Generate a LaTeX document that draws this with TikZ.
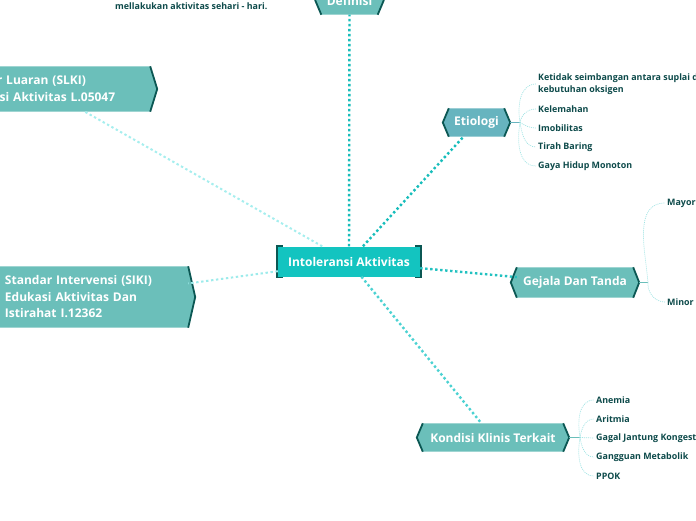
\documentclass[tikz,border=0pt]{standalone}
\usepackage{fontspec}
\setmainfont{Open Sans}
\usetikzlibrary{backgrounds}

\definecolor{turq}{HTML}{13C4C0}
\definecolor{sage}{HTML}{6BBFBA}
\definecolor{steel}{HTML}{67B4BF}
\definecolor{rimc}{HTML}{0B5753}
\definecolor{leaftext}{HTML}{0D4A4A}
\definecolor{linkdark}{HTML}{17BDBB}
\definecolor{linkmid}{HTML}{4CD2D2}
\definecolor{linkpale}{HTML}{A6EEEE}
\definecolor{twigc}{HTML}{9FE3E3}

\begin{document}
\begin{tikzpicture}[x=1pt,y=-1pt]
      \useasboundingbox (0,0) rectangle (696,520);
      \tikzstyle{topic}=[inner sep=0pt,text=white,
        font=\fontsize{12}{15}\selectfont\bfseries]
      \tikzstyle{leaf}=[anchor=west,inner xsep=2pt,inner ysep=1pt,
        text=leaftext,align=left,
        font=\fontsize{8.9}{12}\selectfont\bfseries]
      \tikzstyle{rim}=[rimc,line width=1.8pt]

      % main topics
      \node[topic,fill=turq,minimum width=142pt,minimum height=30pt]
      (ia) at (349,261.5) {Intoleransi Aktivitas};
      \node[topic,minimum width=56pt,minimum height=28pt]  (def) at (349.5,0.5) {Definisi};
      \node[topic,minimum width=55pt,minimum height=28pt]  (eti) at (476.5,122.5) {Etiologi};
      \node[topic,minimum width=116pt,minimum height=30pt] (gej) at (575,282.5) {Gejala Dan Tanda};
      \node[topic,minimum width=140pt,minimum height=28pt] (kon) at (493,437.5) {Kondisi Klinis Terkait};
      \node[topic,text width=180pt,inner xsep=15pt,minimum height=45pt,align=left,
        font=\fontsize{12}{17}\selectfont\bfseries]
      (slki) at (45,89) {Standar Luaran (SLKI)\\Toleransi Aktivitas L.05047};
      \node[topic,text width=168pt,inner xsep=15pt,minimum height=61pt,align=left,
        font=\fontsize{12}{16.5}\selectfont\bfseries]
      (siki) at (89,297) {Standar Intervensi (SIKI)\\Edukasi Aktivitas Dan\\Istirahat I.12362};

      \node[leaf] (defnote) at (113,6) {mellakukan aktivitas sehari - hari.};

      % shapes behind the texts
      \begin{scope}[on background layer]
        \foreach \n/\c in {def/sage,eti/steel,gej/sage,kon/sage} {
          \fill[\c] ([xshift=-6pt]\n.west) -- (\n.north west) -- (\n.north east)
          -- ([xshift=6pt]\n.east) -- (\n.south east) -- (\n.south west) -- cycle;
          \draw[rim] (\n.north west) -- ([xshift=-6pt]\n.west) -- (\n.south west);
          \draw[rim] (\n.north east) -- ([xshift=6pt]\n.east) -- (\n.south east);
        }
        \foreach \n in {slki,siki} {
          \fill[sage] (\n.north west) -- (\n.north east) -- ([xshift=7pt]\n.east)
          -- (\n.south east) -- (\n.south west) -- cycle;
          \draw[rim] (\n.north east) -- ([xshift=7pt]\n.east) -- (\n.south east);
        }
        \draw[rimc,line width=3pt] ([xshift=5pt]ia.north west) -- (ia.north west)
        -- (ia.south west) -- ([xshift=5pt]ia.south west);
        \draw[rimc,line width=3pt] ([xshift=-5pt]ia.north east) -- (ia.north east)
        -- (ia.south east) -- ([xshift=-5pt]ia.south east);
      \end{scope}

      % links from the centre
      \tikzstyle{link}=[line width=2.4pt,dash pattern=on 2.4pt off 2.6pt]
      \draw[link,linkdark] (ia) -- (def);
      \draw[link,linkdark] (ia) -- (eti);
      \draw[link,linkdark!80!linkmid] (ia) -- (gej);
      \draw[link,linkmid] (ia) -- (kon);
      \draw[link,linkpale,line width=2pt] (ia) -- (slki);
      \draw[link,linkpale!90!linkmid,line width=2pt] (ia) -- (siki);

      % leaves
      \node[leaf] (e1) at (536,84)  {Ketidak seimbangan antara suplai dan\\kebutuhan oksigen};
      \node[leaf] (e2) at (536,109) {Kelemahan};
      \node[leaf] (e3) at (536,128) {Imobilitas};
      \node[leaf] (e4) at (536,147) {Tirah Baring};
      \node[leaf] (e5) at (536,166) {Gaya Hidup Monoton};

      \node[leaf] (g1) at (665,203) {Mayor};
      \node[leaf] (g2) at (665,302) {Minor};

      \node[leaf] (k1) at (594,400) {Anemia};
      \node[leaf] (k2) at (594,419) {Aritmia};
      \node[leaf] (k3) at (594,438) {Gagal Jantung Kongestif};
      \node[leaf] (k4) at (594,457) {Gangguan Metabolik};
      \node[leaf] (k5) at (594,476) {PPOK};

      \coordinate (etihub) at (520,122.5);
      \coordinate (gejhub) at (648,282.5);
      \coordinate (konhub) at (580,437.5);

      \tikzstyle{twig}=[twigc,line width=0.7pt,dash pattern=on 1pt off 1pt]
      \draw[steel,line width=1.5pt] ([xshift=6pt]eti.east) -- (etihub);
      \draw[sage,line width=1.5pt] ([xshift=6pt]gej.east) -- (gejhub);
      \draw[sage,line width=1.5pt] ([xshift=6pt]kon.east) -- (konhub);

      \draw[twig] (etihub) to[out=100,in=180] (e1.west);
      \draw[twig] (etihub) to[out=80,in=180] (e2.west);
      \draw[twig] (etihub) to[out=-30,in=180] (e3.west);
      \draw[twig] (etihub) to[out=-80,in=180] (e4.west);
      \draw[twig] (etihub) to[out=-100,in=180] (e5.west);

      \draw[twig] (gejhub) to[out=95,in=180] (g1.west);
      \draw[twig] (gejhub) to[out=-95,in=180] (g2.west);

      \draw[twig] (konhub) to[out=100,in=180] (k1.west);
      \draw[twig] (konhub) to[out=80,in=180] (k2.west);
      \draw[twig] (konhub) -- (k3.west);
      \draw[twig] (konhub) to[out=-80,in=180] (k4.west);
      \draw[twig] (konhub) to[out=-100,in=180] (k5.west);
    \end{tikzpicture}
\end{document}
